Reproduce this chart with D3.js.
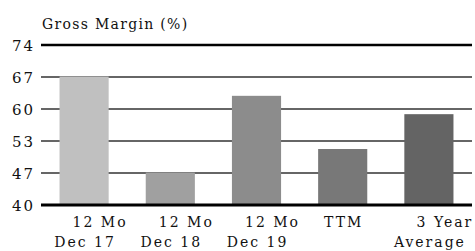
<!DOCTYPE html>
<html>
<head>
<meta charset="utf-8">
<script src="https://cdn.jsdelivr.net/npm/d3@7"></script>
<style>
  html, body { margin: 0; padding: 0; background: #fff; }
  svg { display: block; }
  svg text { font-family: "DejaVu Serif", serif; font-size: 14px; fill: #111; letter-spacing: 2px; }
</style>
</head>
<body>
<svg id="chart" width="475" height="251"></svg>
<script>
// chart data
const categories = [ ['12 Mo', 'Dec 17'], ['12 Mo', 'Dec 18'], ['12 Mo', 'Dec 19'], ['TTM'], ['3 Year', 'Average'] ]
const values = [ 67.3, 46.9, 63.2, 51.9, 59.3 ]
const barColors = [ '#c0c0c0', '#a0a0a0', '#8c8c8c', '#787878', '#646464' ]
const tickValues = [ 40, 46.8, 53.6, 60.4, 67.2, 74 ]
const tickLabels = [ '40', '47', '53', '60', '67', '74' ]
const title = 'Gross Margin (%)'

const svg = d3.select( '#chart' )
const plotLeft = 41, plotRight = 472, plotTop = 45, plotBottom = 205

const x = d3.scaleBand()
    .domain( d3.range( categories.length ) )
    .range( [ plotLeft, plotRight ] )
    .paddingInner( 0.43 )
    .paddingOuter( 0.215 )

const y = d3.scaleLinear()
    .domain( [ 40, 74 ] )
    .range( [ plotBottom, plotTop ] )

// gridlines
svg.append( 'g' )
    .selectAll( 'line' )
    .data( tickValues.slice( 1, -1 ) )
    .join( 'line' )
    .attr( 'x1', plotLeft )
    .attr( 'x2', plotRight )
    .attr( 'y1', d => y( d ) )
    .attr( 'y2', d => y( d ) )
    .attr( 'stroke', '#333' )
    .attr( 'stroke-width', 1.3 )

svg.append( 'line' )
    .attr( 'x1', plotLeft ).attr( 'x2', plotRight )
    .attr( 'y1', y( 74 ) ).attr( 'y2', y( 74 ) )
    .attr( 'stroke', '#000' )
    .attr( 'stroke-width', 2.5 )

// bars
svg.append( 'g' )
    .selectAll( 'rect' )
    .data( values )
    .join( 'rect' )
    .attr( 'x', ( d, i ) => x( i ) )
    .attr( 'width', x.bandwidth() )
    .attr( 'y', d => y( d ) )
    .attr( 'height', d => y( 40 ) - y( d ) )
    .attr( 'fill', ( d, i ) => barColors[i] )

svg.append( 'line' )
    .attr( 'x1', plotLeft ).attr( 'x2', plotRight )
    .attr( 'y1', y( 40 ) ).attr( 'y2', y( 40 ) )
    .attr( 'stroke', '#000' )
    .attr( 'stroke-width', 3 )

// y tick labels
svg.append( 'g' )
    .selectAll( 'text' )
    .data( tickValues )
    .join( 'text' )
    .attr( 'x', 35 )
    .attr( 'y', d => y( d ) + 5.5 )
    .attr( 'text-anchor', 'end' )
    .style( 'font-size', '15px' )
    .text( ( d, i ) => tickLabels[i] )

// x labels, the first line of a two line label sits a bit right
const xl = svg.append( 'g' )
categories.forEach( ( lines, i ) => {
    const cx = x( i ) + x.bandwidth() / 2
    lines.forEach( ( line, j ) => {
        xl.append( 'text' )
            .attr( 'x', cx + ( lines.length > 1 && j === 0 ? 16 : 1 ) )
            .attr( 'y', 227 + j * 20 )
            .attr( 'text-anchor', 'middle' )
            .text( line )
    } )
} )

svg.append( 'text' )
    .attr( 'x', 42 )
    .attr( 'y', 29 )
    .style( 'letter-spacing', '1.3px' )
    .text( title )
</script>
</body>
</html>
